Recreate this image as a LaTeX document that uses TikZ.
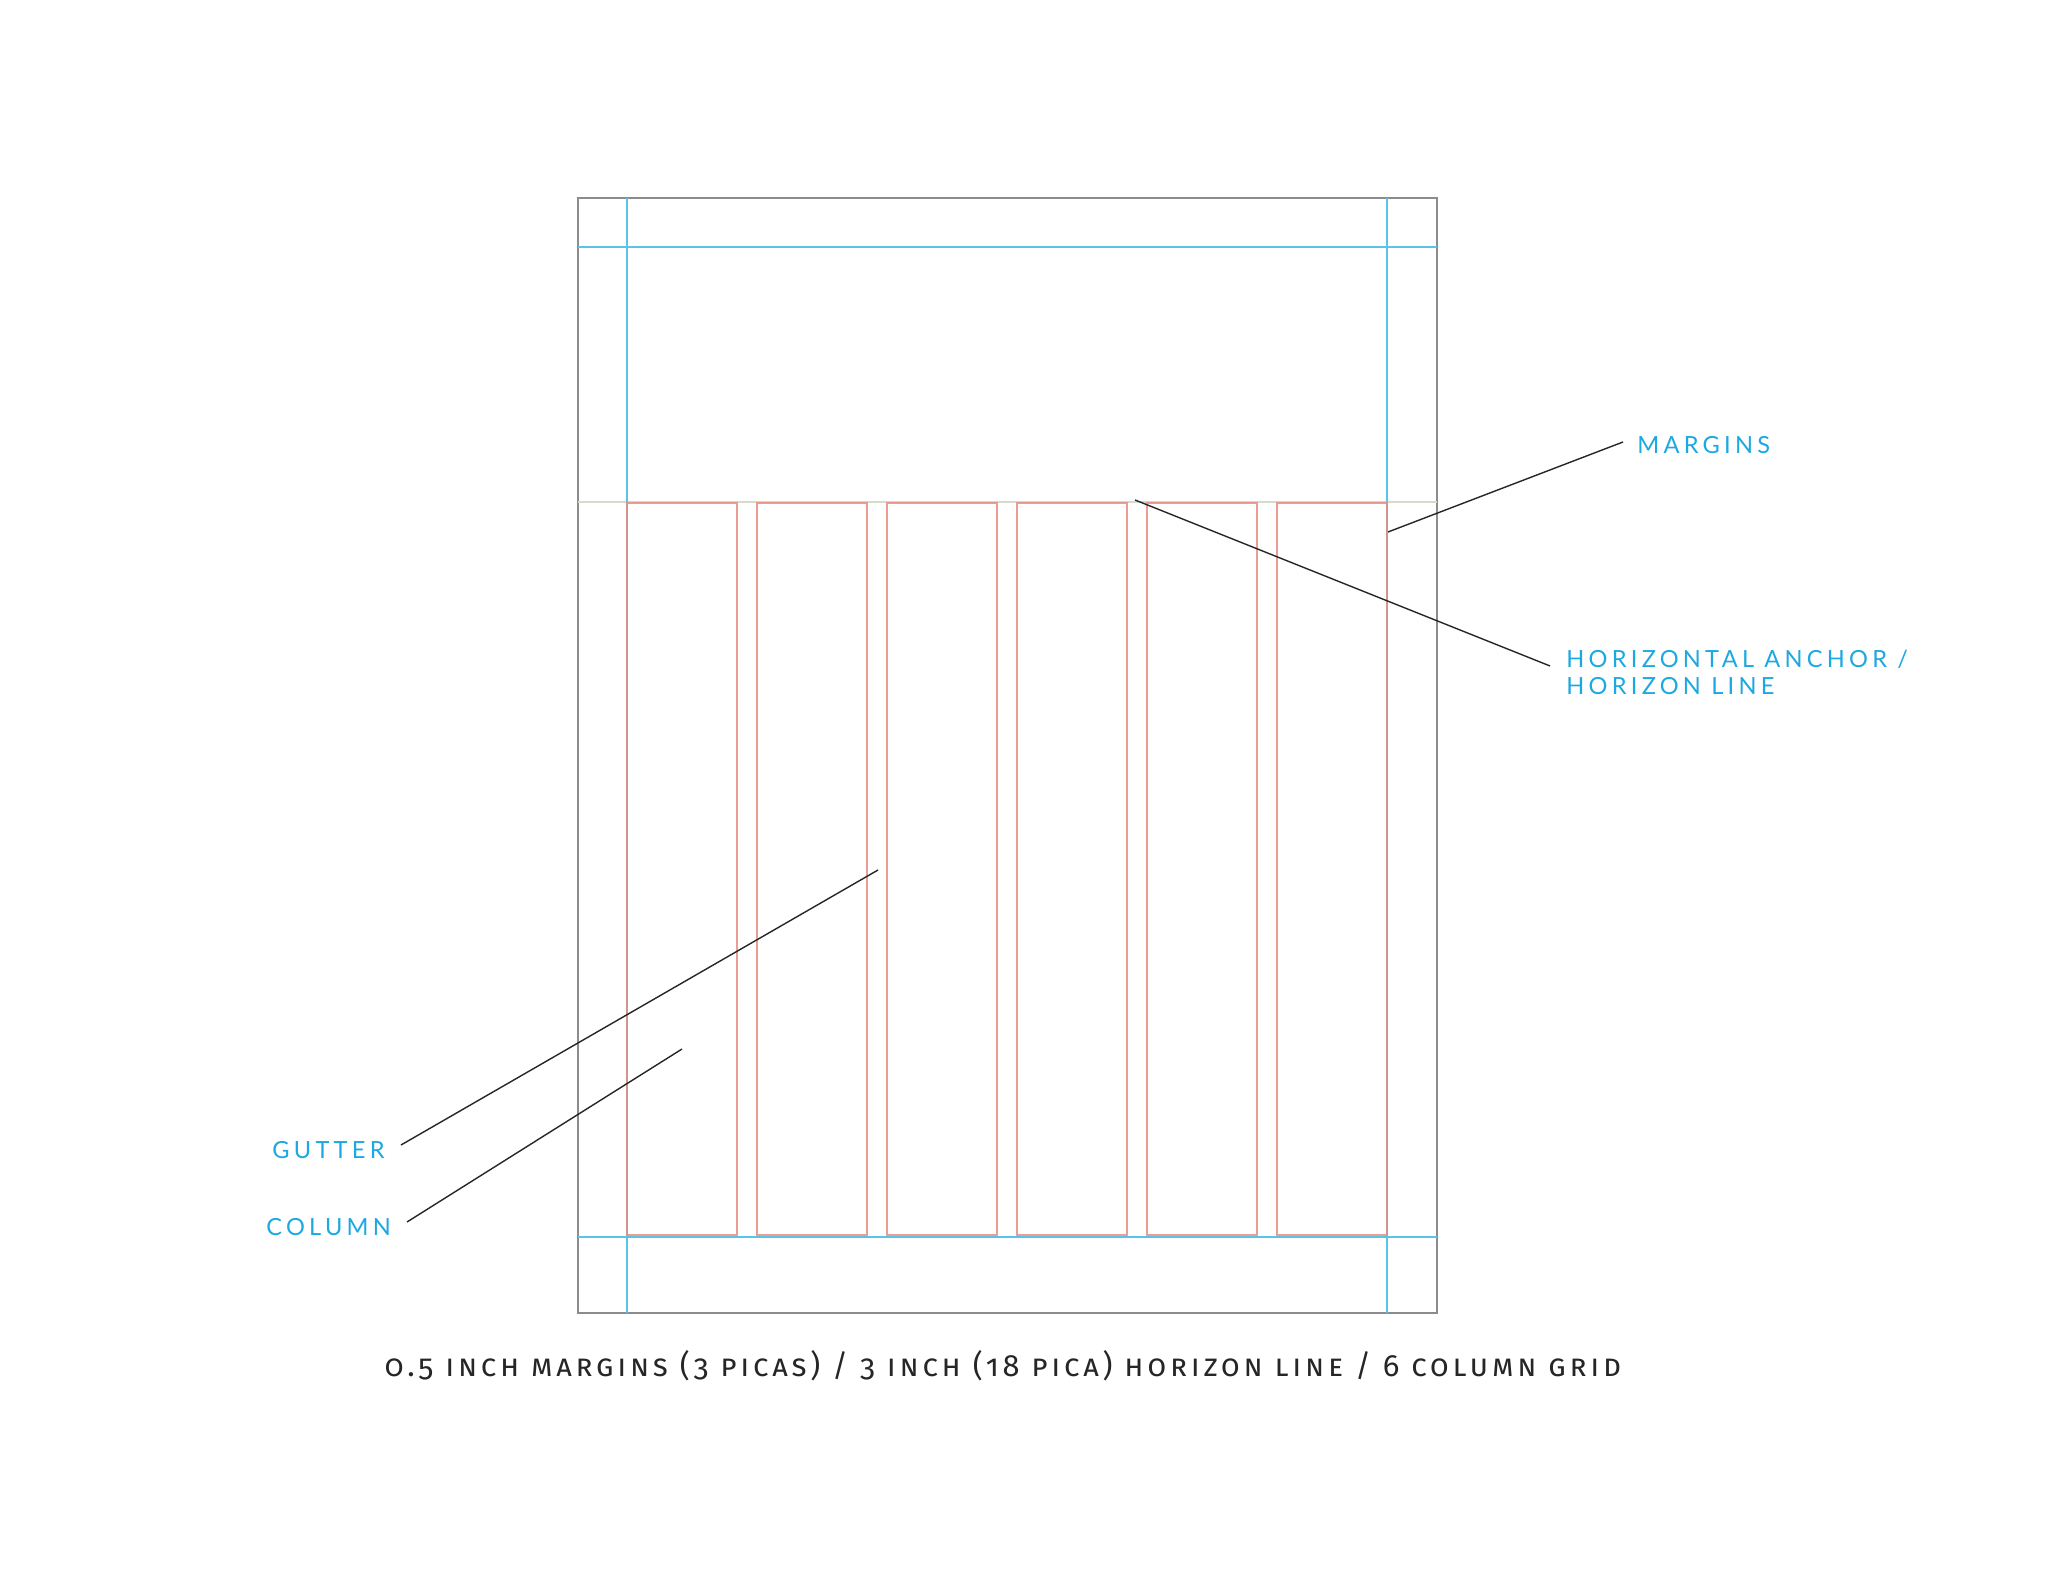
\documentclass[tikz,border=0pt]{standalone}
\usepackage{fontspec}
\newfontfamily\labfont[LetterSpace=18]{Lato}
\newfontfamily\capfont[Letters=SmallCaps,Numbers=OldStyle,LetterSpace=12]{Fira Sans}
\definecolor{lblue}{RGB}{28,168,224}
\definecolor{mblue}{RGB}{90,195,232}
\definecolor{colred}{RGB}{232,140,130}
\definecolor{horiz}{RGB}{215,220,200}
\definecolor{pagegray}{RGB}{140,140,140}
\tikzset{
  pageframe/.style={draw=pagegray,line width=1.1pt},
  marginline/.style={draw=mblue,line width=0.65pt},
  horizonline/.style={draw=horiz,line width=1pt},
  colbox/.style={draw=colred,line width=0.6pt,opacity=0.85},
  leader/.style={draw=black!85,line width=0.7pt},
  lab/.style={text=lblue,inner sep=0pt,font=\labfont\fontsize{11.8}{13.5}\selectfont,align=left},
  captext/.style={text=black!85,inner sep=0pt,font=\capfont\fontsize{15.4}{17}\selectfont}
}
\begin{document}
\begin{tikzpicture}[x=0.5pt,y=-0.5pt]
\useasboundingbox[fill=white] (0,0) rectangle (2048,1582);
% page frame
\draw[pageframe] (578,198) rectangle (1437,1313);
% horizon line
\draw[horizonline] (578,502) -- (1437,502);
% margin lines
\draw[marginline] (578,247) -- (1437,247);
\draw[marginline] (578,1237) -- (1437,1237);
\draw[marginline] (627,198) -- (627,1313);
\draw[marginline] (1387,198) -- (1387,1313);
% columns
\foreach \i in {0,...,5}{
  \pgfmathsetmacro{\xl}{627+130*\i}
  \pgfmathsetmacro{\xr}{737+130*\i}
  \draw[colbox] (\xl,503) rectangle (\xr,1235);
}
% labels
\node[lab,anchor=base west] (margins) at (1637,454) {MARGINS};
\node[lab,anchor=base west] (horizon) at (1566,694) {HORIZONTAL ANCHOR /\\HORIZON LINE};
\node[lab,anchor=base west] (gutter) at (272,1158) {GUTTER};
\node[lab,anchor=base west] (column) at (266,1235) {COLUMN};
% leader coordinates
\coordinate (mA) at (1623,442);
\coordinate (mB) at (1388,532);
\coordinate (hA) at (1550,666);
\coordinate (hB) at (1135,500);
\coordinate (gA) at (401,1145);
\coordinate (gB) at (878,870);
\coordinate (cA) at (407,1222);
\coordinate (cB) at (682,1049);
\draw[leader] (mA) -- (mB);
\draw[leader] (hA) -- (hB);
\draw[leader] (gA) -- (gB);
\draw[leader] (cA) -- (cB);
% caption
\node[captext,anchor=base] (caption) at (1003,1376) {0.5 inch margins (3 picas) / 3 inch (18 pica) horizon line / 6 column grid};
\end{tikzpicture}
\end{document}
